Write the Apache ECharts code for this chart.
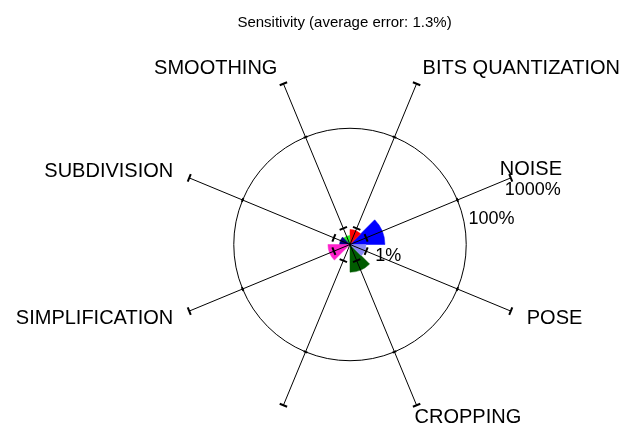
<!DOCTYPE html>
<html>
<head>
<meta charset="utf-8">
<script src="https://cdn.jsdelivr.net/npm/echarts@6/dist/echarts.min.js"></script>
<style>
html,body{margin:0;padding:0;background:#fff;}
#chart{width:631px;height:432px;}
</style>
</head>
<body>
<div id="chart"></div>
<script>
// ---- data ----
const titleText = 'Sensitivity (average error: 1.3%)';
const categories = ['NOISE', 'BITS QUANTIZATION', 'SMOOTHING', 'SUBDIVISION', 'SIMPLIFICATION', '', 'CROPPING', 'POSE'];
const sensitivity = [3.0, 0.82, 0.43, 0.52, 1.4, null, 2.0, 0.89]; // percent
const tickValues = [1, 100, 1000]; // percent
const tickLabels = ['1%', '100%', '1000%'];
const wedgeColors = ['#0000ff', '#ff0000', '#22ee22', '#000080', '#ff22cc', '#888888', '#005c00', '#8888f4'];

// ---- layout / style (not data) ----
const FONT = '"Liberation Sans", Arial, sans-serif';
// scale is log10(1 + percent): axis unit = 1 + percent
const toAxis = v => 1 + v;
const axisMin = toAxis(0);
const axisMax = toAxis(tickValues[tickValues.length - 1]);
// category label placement relative to spoke end: [align, dx, dy]
const catLabelPlace = [
  ['left', -11, -8], ['left', 6, -15], ['right', -6, -15], ['right', -16, -6],
  ['right', -16, 7], ['center', 0, 12], ['left', -2, 12], ['left', 16, 7]
];
// radial tick label placement relative to tick point on first spoke: [dx, dy]
const radLabelPlace = [[9, 9], [11, 10], [-6, 3]];

const chart = echarts.init(document.getElementById('chart'), null, {renderer: 'canvas'});

const wedgeData = [];
sensitivity.forEach((v, i) => { if (v !== null) wedgeData.push([toAxis(v), i]); });
const frameData = categories.map((c, i) => [axisMax, i]);

function geom(params, api, i) {
  const cs = params.coordSys;
  const end = api.coord([axisMax, i]);
  const R = Math.hypot(end[0] - cs.cx, end[1] - cs.cy);
  const ux = (end[0] - cs.cx) / R, uy = (end[1] - cs.cy) / R;
  return {cx: cs.cx, cy: cs.cy, end, R, ux, uy};
}

function tick(api, i, val, len, g) {
  const p = api.coord([toAxis(val), i]);
  const px = -g.uy, py = g.ux;
  return {type: 'line', shape: {x1: p[0] - px * len / 2, y1: p[1] - py * len / 2, x2: p[0] + px * len / 2, y2: p[1] + py * len / 2},
          style: {stroke: '#000', lineWidth: 2}};
}

const option = {
  animation: false,
  backgroundColor: '#ffffff',
  graphic: [{
    type: 'text', x: 344.5, y: 22.5,
    style: {text: titleText, font: '15px ' + FONT, fill: '#000', align: 'center', verticalAlign: 'middle'}
  }],
  polar: {center: [350, 244.5], radius: 174},
  angleAxis: {
    type: 'category', data: categories, startAngle: 22.5, clockwise: false, boundaryGap: false,
    axisLine: {show: false}, axisTick: {show: false}, axisLabel: {show: false}, splitLine: {show: false}
  },
  radiusAxis: {
    type: 'log', logBase: 10, min: axisMin, max: axisMax,
    axisLine: {show: false}, axisTick: {show: false}, axisLabel: {show: false}, splitLine: {show: false}
  },
  series: [
    {
      type: 'custom', coordinateSystem: 'polar', silent: true, z: 2,
      encode: {radius: 0, angle: 1},
      data: wedgeData,
      renderItem: function (params, api) {
        const cs = params.coordSys;
        const i = api.value(1);
        const p = api.coord([api.value(0), i]);
        const r = Math.hypot(p[0] - cs.cx, p[1] - cs.cy);
        const a = Math.atan2(p[1] - cs.cy, p[0] - cs.cx);
        const half = Math.PI / categories.length;
        return {
          type: 'sector',
          shape: {cx: cs.cx, cy: cs.cy, r0: 0, r: r, startAngle: a - half, endAngle: a + half, clockwise: true},
          style: {fill: wedgeColors[i], stroke: wedgeColors[i], lineWidth: 0.5}
        };
      }
    },
    {
      type: 'custom', coordinateSystem: 'polar', silent: true, z: 5,
      encode: {radius: 0, angle: 1},
      data: frameData,
      renderItem: function (params, api) {
        const i = api.value(1);
        const g = geom(params, api, i);
        const children = [];
        if (i === 0) {
          const c100 = api.coord([toAxis(tickValues[1]), 0]);
          children.push({type: 'circle', shape: {cx: g.cx, cy: g.cy, r: Math.hypot(c100[0] - g.cx, c100[1] - g.cy)},
                         style: {fill: 'none', stroke: '#000', lineWidth: 1}});
          tickValues.forEach((tv, k) => {
            const p = api.coord([toAxis(tv), 0]);
            children.push({type: 'text', x: p[0] + radLabelPlace[k][0], y: p[1] + radLabelPlace[k][1],
              style: {text: tickLabels[k], font: '18px ' + FONT, fill: '#000', align: 'left', verticalAlign: 'top'}});
          });
        }
        children.push({type: 'line', shape: {x1: g.cx, y1: g.cy, x2: g.end[0], y2: g.end[1]},
                       style: {stroke: '#000', lineWidth: 1}});
        children.push(tick(api, i, tickValues[0], 8, g));
        children.push(tick(api, i, tickValues[1], 4, g));
        children.push(tick(api, i, tickValues[2], 8, g));
        if (categories[i]) {
          const pl = catLabelPlace[i];
          children.push({type: 'text', x: g.end[0] + pl[1], y: g.end[1] + pl[2],
            style: {text: categories[i], font: '20px ' + FONT, fill: '#000', align: pl[0], verticalAlign: 'middle'}});
        }
        return {type: 'group', children: children};
      }
    }
  ]
};
chart.setOption(option);
</script>
</body>
</html>
